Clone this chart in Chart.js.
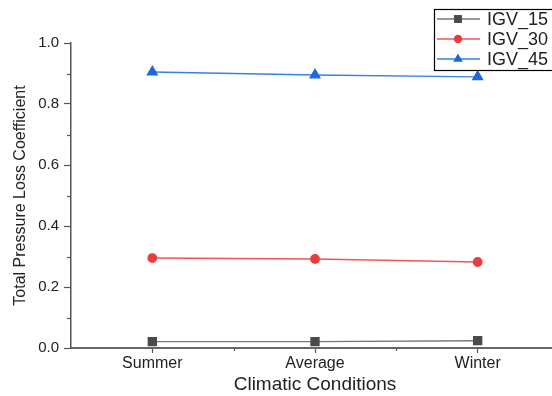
<!DOCTYPE html>
<html>
<head>
<meta charset="utf-8">
<script src="https://cdn.jsdelivr.net/npm/chart.js@4/dist/chart.umd.min.js"></script>
<style>
  html, body { margin: 0; padding: 0; background: #fff; overflow: hidden; }
  #wrap { width: 552px; height: 396px; overflow: hidden; position: relative; }
  #box { width: 600px; height: 396px; position: absolute; left: 0; top: 0; }
</style>
</head>
<body>
<div id="wrap"><div id="box"><canvas id="c"></canvas></div></div>
<script>
const categories = ['Summer', 'Average', 'Winter'];
const igv15 = [0.021, 0.021, 0.024];
const igv30 = [0.295, 0.292, 0.282];
const igv45 = [0.905, 0.895, 0.889];
const seriesNames = ['IGV_15', 'IGV_30', 'IGV_45'];
const yTicks = [0, 0.2, 0.4, 0.6, 0.8, 1.0];

const FONT = '"Liberation Sans", Arial, sans-serif';
const toPoints = arr => arr.map((v, i) => ({ x: i + 1, y: v }));

// Minor tick marks between the labelled ticks on both axes
const minorTicks = {
  id: 'minorTicks',
  afterDraw(chart) {
    const ctx = chart.ctx;
    const x = chart.scales.x, y = chart.scales.y;
    ctx.save();
    ctx.strokeStyle = '#555';
    ctx.lineWidth = 1.2;
    for (let i = 0; i < yTicks.length - 1; i++) {
      const py = Math.round(y.getPixelForValue((yTicks[i] + yTicks[i + 1]) / 2)) + 0.5;
      ctx.beginPath();
      ctx.moveTo(x.left, py);
      ctx.lineTo(x.left - 4, py);
      ctx.stroke();
    }
    for (let i = 0; i < categories.length - 1; i++) {
      const px = Math.round(x.getPixelForValue(i + 1.5)) + 0.5;
      ctx.beginPath();
      ctx.moveTo(px, y.bottom);
      ctx.lineTo(px, y.bottom + 3);
      ctx.stroke();
    }
    ctx.restore();
  }
};

// Boxed legend in the upper right corner
const boxLegend = {
  id: 'boxLegend',
  afterDraw(chart) {
    const ctx = chart.ctx;
    const left = 434, top = 9, rowH = 20, w = 150, h = 61;
    ctx.save();
    ctx.fillStyle = '#fff';
    ctx.fillRect(left, top, w, h);
    ctx.strokeStyle = '#000';
    ctx.lineWidth = 1.2;
    ctx.strokeRect(left + 0.5, top + 0.5, w, h);
    ctx.font = '18px ' + FONT;
    ctx.textBaseline = 'middle';
    chart.data.datasets.forEach((ds, i) => {
      const cy = top + 10 + i * rowH;
      ctx.strokeStyle = ds.borderColor;
      ctx.lineWidth = 1.3;
      ctx.beginPath();
      ctx.moveTo(left + 3, cy);
      ctx.lineTo(left + 46, cy);
      ctx.stroke();
      ctx.fillStyle = ds.pointBackgroundColor;
      ctx.strokeStyle = ds.pointBorderColor;
      Chart.helpers.drawPoint(ctx, {
        pointStyle: ds.pointStyle, radius: ds.pointRadius, borderWidth: 0, rotation: 0
      }, left + 24, cy);
      ctx.fillStyle = '#222';
      ctx.fillText(ds.label, left + 53, cy + 1);
    });
    ctx.restore();
  }
};

new Chart(document.getElementById('c'), {
  type: 'line',
  data: {
    datasets: [
      { label: seriesNames[0], data: toPoints(igv15), borderColor: '#777', backgroundColor: '#4a4a4a',
        pointBackgroundColor: '#4a4a4a', pointBorderColor: '#4a4a4a', pointStyle: 'rect', pointRadius: 5.6, borderWidth: 1.4 },
      { label: seriesNames[1], data: toPoints(igv30), borderColor: '#f05555', backgroundColor: '#ee3b3b',
        pointBackgroundColor: '#ee3b3b', pointBorderColor: '#ee3b3b', pointStyle: 'circle', pointRadius: 4.2, borderWidth: 1.4 },
      { label: seriesNames[2], data: toPoints(igv45), borderColor: '#3a7fe6', backgroundColor: '#1f68dc',
        pointBackgroundColor: '#1f68dc', pointBorderColor: '#1f68dc', pointStyle: 'triangle', pointRadius: 5.6, borderWidth: 1.4 }
    ]
  },
  options: {
    responsive: true,
    maintainAspectRatio: false,
    animation: false,
    layout: { padding: { top: 43, right: 41, left: 11, bottom: 0 } },
    plugins: { legend: { display: false }, tooltip: { enabled: false } },
    scales: {
      x: {
        type: 'linear', min: 0.5, max: 3.5,
        afterBuildTicks: s => { s.ticks = categories.map((c, i) => ({ value: i + 1 })); },
        afterFit: s => { s.height = 48; },
        ticks: {
          callback: v => categories[v - 1] || '',
          color: '#222', font: { family: FONT, size: 16 }, padding: 1, maxRotation: 0
        },
        grid: { drawOnChartArea: false, tickLength: 5, tickColor: '#555', tickWidth: 1.2 },
        border: { color: '#666', width: 2 },
        title: { display: true, text: 'Climatic Conditions', color: '#222',
          font: { family: FONT, size: 19 }, padding: { top: 0, bottom: 0 } }
      },
      y: {
        min: 0, max: 1.0,
        afterBuildTicks: s => { s.ticks = yTicks.map(v => ({ value: v })); },
        afterFit: s => { s.width = 60; },
        ticks: {
          callback: v => v.toFixed(1),
          color: '#222', font: { family: FONT, size: 15 }, padding: 5
        },
        grid: { drawOnChartArea: false, tickLength: 7, tickColor: '#555', tickWidth: 1.2 },
        border: { color: '#555', width: 1.5 },
        title: { display: true, text: 'Total Pressure Loss Coefficient', color: '#222',
          font: { family: FONT, size: 16 }, padding: { top: 0, bottom: 0 } }
      }
    }
  },
  plugins: [minorTicks, boxLegend]
});
</script>
</body>
</html>
